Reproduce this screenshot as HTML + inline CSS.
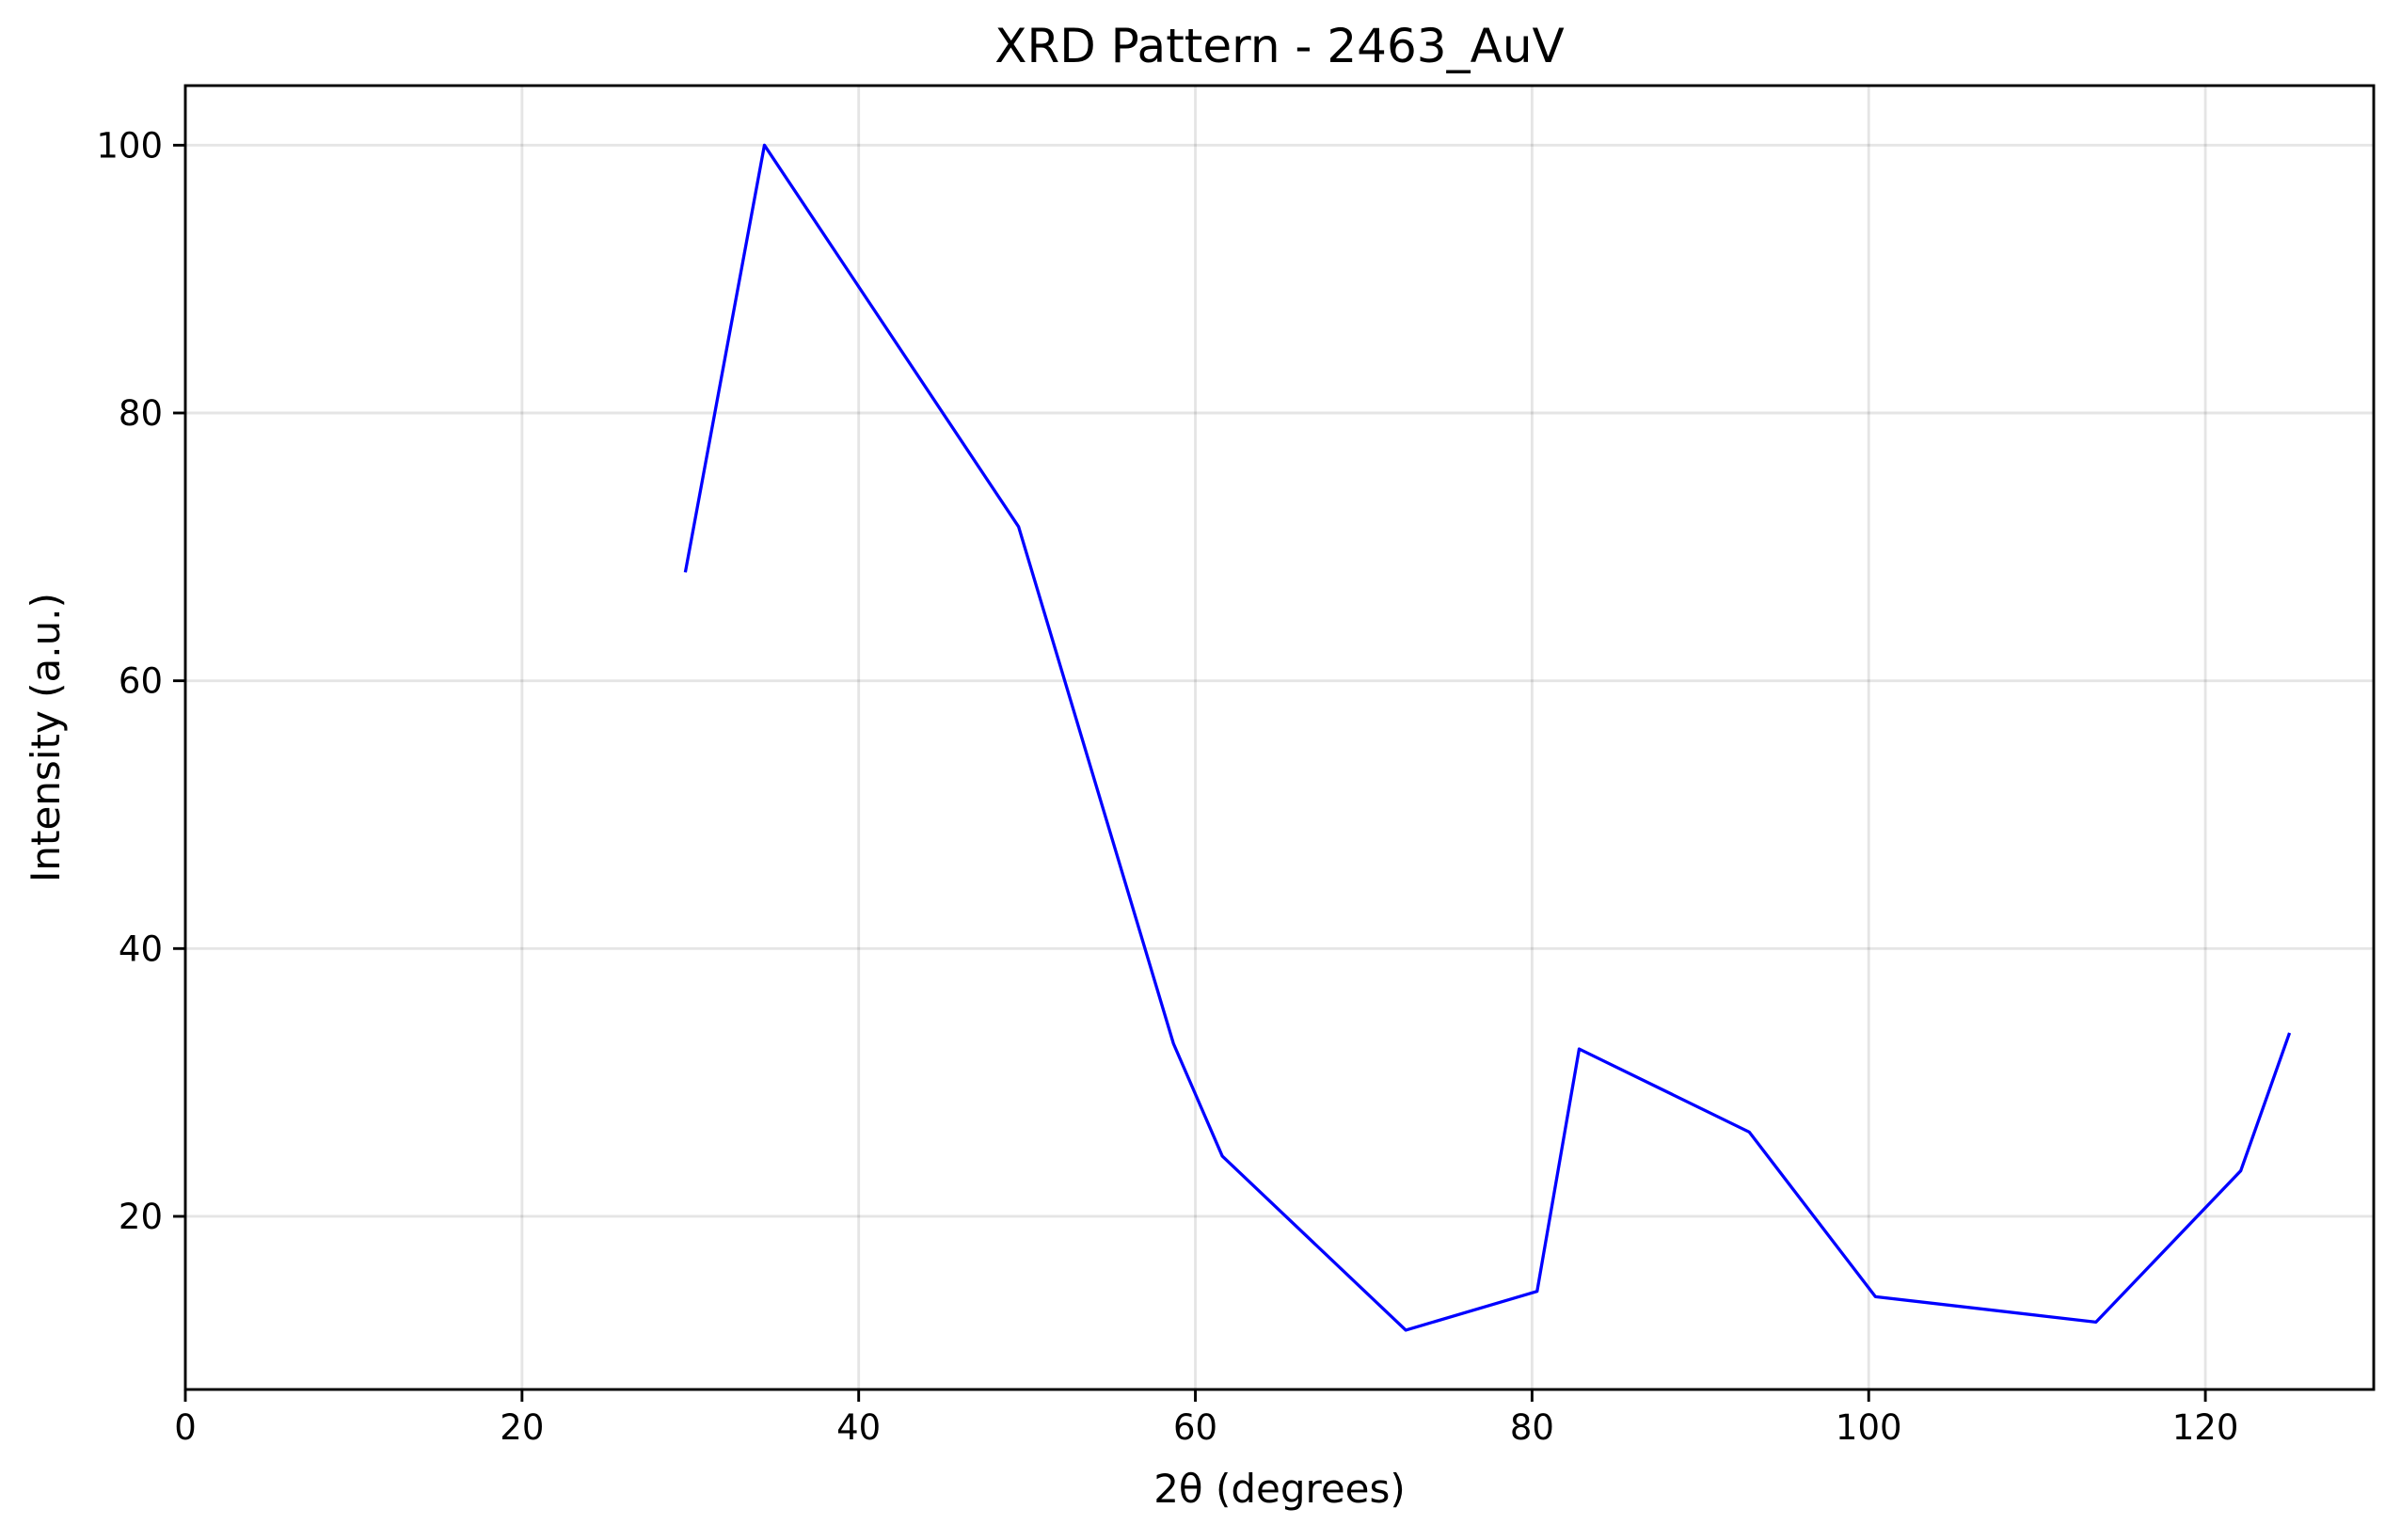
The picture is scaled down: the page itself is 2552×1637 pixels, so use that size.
<!DOCTYPE html>
<html><head><meta charset="utf-8"><style>html,body{margin:0;padding:0;background:#fff}svg{display:block}</style></head>
<body>
<svg id="chart" width="2552" height="1637" xmlns="http://www.w3.org/2000/svg" font-family="DejaVu Sans, Liberation Sans, sans-serif">
<rect width="2552" height="1637" fill="#fff"/>
<g id="grid"></g>
<g id="series"></g>
<g id="axes"></g>
<text x="1360" y="66" font-size="50" text-anchor="middle">XRD Pattern - 2463_AuV</text>
<text x="1360" y="1597" font-size="42" text-anchor="middle">2θ (degrees)</text>
<text transform="translate(63,784) rotate(-90)" font-size="42" text-anchor="middle">Intensity (a.u.)</text>
</svg>
<script>
const xValues = [29.7, 34.4, 49.5, 58.7, 61.6, 72.5, 80.3, 82.8, 92.9, 100.4, 113.5, 122.1, 125.0];
const yValues = [68.1, 100, 71.5, 32.9, 24.5, 11.5, 14.4, 32.5, 26.3, 14.0, 12.1, 23.4, 33.7];
const xTicks = [0, 20, 40, 60, 80, 100, 120];
const yTicks = [20, 40, 60, 80, 100];
const L=197, R=2523, T=91, B=1477;
const X0=0, X1=130, Y0=7.07, Y1=104.45;
const sx = v => L + (v - X0) / (X1 - X0) * (R - L);
const sy = v => B - (v - Y0) / (Y1 - Y0) * (B - T);
const NS='http://www.w3.org/2000/svg';
function mk(t,a,p){const e=document.createElementNS(NS,t);for(const k in a)e.setAttribute(k,a[k]);p.appendChild(e);return e;}
const grid=document.getElementById('grid'), axes=document.getElementById('axes'), series=document.getElementById('series');
xTicks.forEach(v=>{
  const g=mk('line',{x1:sx(v),x2:sx(v),y1:T,y2:B,stroke:'#000','stroke-opacity':0.1,'stroke-width':2.9},grid);
  
  
  const t=mk('line',{x1:sx(v),x2:sx(v),y1:B,y2:B+13,stroke:'#000','stroke-width':2.9},axes);
  
  
  const l=mk('text',{x:sx(v),y:B+53,'font-size':37,'text-anchor':'middle'},axes);
  l.textContent=v;
  
  
});
yTicks.forEach(v=>{
  const g=mk('line',{x1:L,x2:R,y1:sy(v),y2:sy(v),stroke:'#000','stroke-opacity':0.1,'stroke-width':2.9},grid);
  
  
  const t=mk('line',{x1:L-13,x2:L,y1:sy(v),y2:sy(v),stroke:'#000','stroke-width':2.9},axes);
  
  
  const l=mk('text',{x:L-24,y:sy(v)+13,'font-size':37,'text-anchor':'end'},axes);
  l.textContent=v;
  
  
});
const frame=mk('rect',{x:L,y:T,width:R-L,height:B-T,fill:'none',stroke:'#000','stroke-width':2.9},axes);


const pts=xValues.map((x,i)=>sx(x)+','+sy(yValues[i])).join(' ');
const line=mk('polyline',{points:pts,fill:'none',stroke:'#0000ff','stroke-width':3.3,'stroke-linejoin':'round'},series);


</script>
</body></html>
